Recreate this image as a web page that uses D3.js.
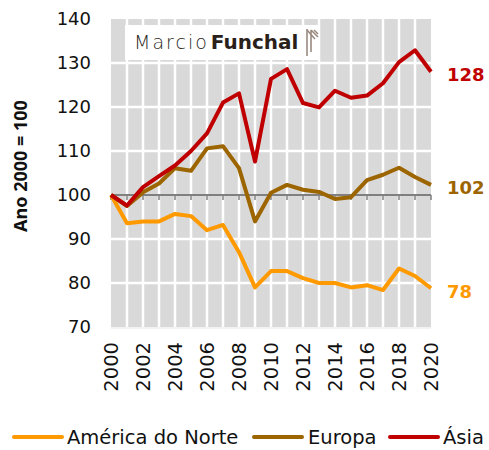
<!DOCTYPE html>
<html lang="pt">
<head>
<meta charset="utf-8">
<title>Ano 2000 = 100</title>
<script src="https://d3js.org/d3.v7.min.js"></script>
<style>
  body { margin: 0; background: #fff; }
  text { font-family: "DejaVu Sans", Verdana, sans-serif; fill: #111; }
</style>
</head>
<body>
<svg width="489" height="450"></svg>
<script>
var years = d3.range(2000, 2021);
var americaNorte = [100, 93.6, 94, 94, 95.7, 95.2, 92, 93.2, 87, 79, 82.7,
                    82.7, 81.1, 80, 80, 79, 79.5, 78.4, 83.3, 81.6, 78.8];
var europa = [100, 97.5, 100.6, 102.6, 106.1, 105.5, 110.6, 111.1, 106.1, 94, 100.5,
              102.3, 101.2, 100.7, 99.1, 99.5, 103.4, 104.6, 106.2, 104.1, 102.3];
var asia = [100, 97.6, 101.8, 104.3, 106.7, 110, 114, 121, 123.1, 107.6, 126.4,
            128.6, 120.9, 119.9, 123.7, 122.1, 122.6, 125.4, 130.2, 132.9, 128];
var series = [
  { name: "América do Norte", values: americaNorte, color: "#FF9900" },
  { name: "Europa", values: europa, color: "#9C6500" },
  { name: "Ásia", values: asia, color: "#C00000" }
];
var yTicks = [70, 80, 90, 100, 110, 120, 130, 140];
var xTicks = d3.range(2000, 2021, 2);

var svg = d3.select("svg");
var x = d3.scaleLinear().domain([2000, 2020]).range([111, 431]);
var y = d3.scaleLinear().domain([70, 140]).range([327, 19]);

// grey plot background
svg.append("rect")
  .attr("x", x(2000)).attr("y", y(140))
  .attr("width", x(2020) - x(2000)).attr("height", y(70) - y(140))
  .attr("fill", "#D9D9D9");

// white grid
svg.selectAll(".vgrid").data(years.slice(1, -1)).enter().append("line")
  .attr("x1", d => x(d)).attr("x2", d => x(d))
  .attr("y1", y(140)).attr("y2", y(70))
  .attr("stroke", "#fff").attr("stroke-width", 2.5);
svg.selectAll(".hgrid").data(yTicks.filter(d => d !== 100 && d !== 70 && d !== 140)).enter().append("line")
  .attr("x1", x(2000)).attr("x2", x(2020))
  .attr("y1", d => y(d)).attr("y2", d => y(d))
  .attr("stroke", "#fff").attr("stroke-width", 2.5);
svg.append("line")
  .attr("x1", x(2000)).attr("x2", x(2020))
  .attr("y1", y(70) + 1).attr("y2", y(70) + 1)
  .attr("stroke", "#eee").attr("stroke-width", 1.5);

// logo
svg.append("rect")
  .attr("x", 125).attr("y", 25).attr("width", 195).attr("height", 35)
  .attr("fill", "#fff");
var logo = svg.append("text").attr("x", 134).attr("y", 49)
  .style("font-size", "19px").style("fill", "#2a1f1a");
logo.append("tspan").text("Marcio").style("font-weight", "300")
  .style("letter-spacing", "2px").style("fill", "#2a1f1a");
logo.append("tspan").text("Funchal").attr("dx", 2).style("font-weight", "bold")
  .style("font-size", "20px").style("fill", "#2a1f1a");
var icon = svg.append("g").attr("stroke", "#9a8a80").attr("stroke-width", 1.6).attr("fill", "none");
icon.append("line").attr("x1", 307).attr("y1", 29).attr("x2", 307).attr("y2", 56);
icon.append("path").attr("d", "M307,30 L315,39 M311,30 L311,52 M311,30 L318,37 M314,30 L318,34");

// 100 baseline with ticks
svg.append("line")
  .attr("x1", x(2000)).attr("x2", x(2020))
  .attr("y1", y(100)).attr("y2", y(100))
  .attr("stroke", "#808080").attr("stroke-width", 2);
svg.selectAll(".tk").data(years).enter().append("line")
  .attr("x1", d => x(d)).attr("x2", d => x(d))
  .attr("y1", y(100)).attr("y2", y(100) + 5)
  .attr("stroke", "#808080").attr("stroke-width", 1.5);

// y axis labels
svg.selectAll(".ylab").data(yTicks).enter().append("text")
  .attr("x", 91).attr("y", d => y(d)).attr("dy", "0.36em")
  .attr("text-anchor", "end").style("font-size", "18px")
  .text(d => d);

svg.append("text")
  .attr("transform", "translate(27,166) rotate(-90)")
  .attr("text-anchor", "middle")
  .style("font-family", "'Noto Sans', sans-serif")
  .style("font-size", "18px").style("font-weight", "bold")
  .text("Ano 2000 = 100");

// x axis labels
svg.selectAll(".xlab").data(xTicks).enter().append("text")
  .attr("transform", d => "translate(" + (x(d) + 7) + ",342) rotate(-90)")
  .attr("text-anchor", "end").style("font-size", "19.5px")
  .text(d => d);

// lines
var line = d3.line().x((d, i) => x(years[i])).y(d => y(d));
series.forEach(function (s) {
  svg.append("path").datum(s.values)
    .attr("d", line).attr("fill", "none")
    .attr("stroke", s.color).attr("stroke-width", 4)
    .attr("stroke-linejoin", "round");
});

// end labels
var endLabels = [
  { v: 128, color: "#C00000", s: asia },
  { v: 102, color: "#9C6500", s: europa },
  { v: 78, color: "#FF9900", s: americaNorte }
];
svg.selectAll(".end").data(endLabels).enter().append("text")
  .attr("x", 447).attr("y", d => y(d.s[d.s.length - 1]) + 3).attr("dy", "0.36em")
  .style("font-size", "18px").style("font-weight", "bold")
  .style("fill", d => d.color)
  .text(d => d.v);

// legend
var legendPos = [{ x: 14, tx: 67 }, { x: 254, tx: 308 }, { x: 390, tx: 443 }];
series.forEach(function (s, i) {
  var p = legendPos[i];
  svg.append("line")
    .attr("x1", p.x).attr("x2", p.x + 48)
    .attr("y1", 437).attr("y2", 437)
    .attr("stroke", s.color).attr("stroke-width", 4).attr("stroke-linecap", "round");
  svg.append("text").attr("x", p.tx).attr("y", 437).attr("dy", "0.36em")
    .style("font-size", "19.5px").text(s.name);
});
</script>
</body>
</html>
